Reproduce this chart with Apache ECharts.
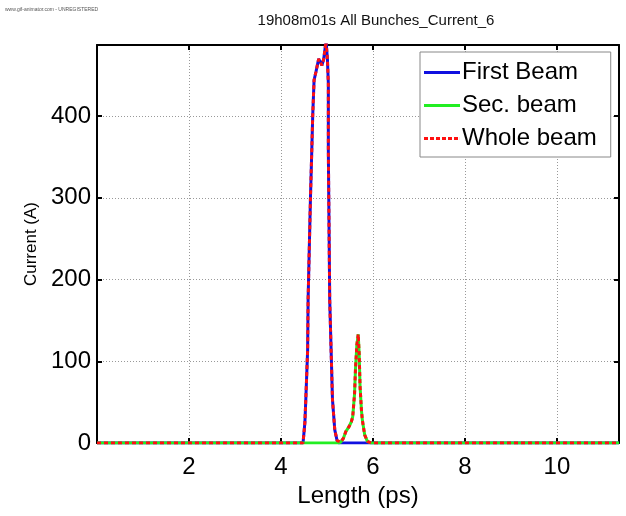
<!DOCTYPE html>
<html>
<head>
<meta charset="utf-8">
<script src="https://cdn.jsdelivr.net/npm/echarts@6/dist/echarts.min.js"></script>
<style>html,body{margin:0;padding:0;background:#fff}#c{width:626px;height:516px}</style>
</head>
<body>
<div id="c"></div>
<script>
const titleText = "19h08m01s All Bunches_Current_6";
const watermark = "www.gif-animator.com - UNREGISTERED";
const xTicks = [2, 4, 6, 8, 10];
const yTicks = [0, 100, 200, 300, 400];
const seriesNames = ["First Beam", "Sec. beam", "Whole beam"];

const firstBeam = [[0,0],[4.40,0],[4.48,0],[4.52,25],[4.54,53],[4.58,114],[4.59,175],[4.64,297],[4.67,358],[4.69,400],[4.72,444],[4.76,454],[4.82,470],[4.86,466],[4.89,462],[4.93,470],[4.98,492],[5.01,470],[5.03,440],[5.03,400],[5.03,358],[5.04,297],[5.06,175],[5.09,114],[5.12,53],[5.17,16],[5.22,3],[5.26,0],[11.35,0]];
const secBeam = [[0,0],[5.25,0],[5.30,1],[5.36,6],[5.41,14],[5.48,20],[5.53,26],[5.56,32],[5.60,60],[5.62,90],[5.65,120],[5.68,133],[5.70,110],[5.72,69],[5.75,40],[5.77,28],[5.82,10],[5.88,2],[5.96,0],[11.35,0]];
const wholeBeam = [[0,0],[4.40,0],[4.48,0],[4.52,25],[4.54,53],[4.58,114],[4.59,175],[4.64,297],[4.67,358],[4.69,400],[4.72,444],[4.76,454],[4.82,470],[4.86,466],[4.89,462],[4.93,470],[4.98,492],[5.01,470],[5.03,440],[5.03,400],[5.03,358],[5.04,297],[5.06,175],[5.09,114],[5.12,53],[5.17,16],[5.22,3],[5.26,1],[5.30,1],[5.36,6],[5.41,14],[5.48,20],[5.53,26],[5.56,32],[5.60,60],[5.62,90],[5.65,120],[5.68,133],[5.70,110],[5.72,69],[5.75,40],[5.77,28],[5.82,10],[5.88,2],[5.96,0],[11.35,0]];

const FONT = "'Liberation Sans', Arial, Helvetica, sans-serif";
const chart = echarts.init(document.getElementById('c'), null, {renderer: 'canvas'});

const xLab = v => xTicks.indexOf(Math.round(v*1000)/1000) >= 0 ? String(v) : '';
const yLab = v => yTicks.indexOf(Math.round(v*1000)/1000) >= 0 ? String(v) : '';

const SOLID_ICON = 'path://M0,0L36,0L36,3L0,3Z';
const DASH_ICON = 'path://M0,0h4v3h-4zM6,0h4v3h-4zM12,0h4v3h-4zM18,0h4v3h-4zM24,0h4v3h-4zM30,0h4v3h-4zM35.9,0h0.1v3h-0.1z';

const axisBase = {
  type: 'value',
  axisLine: {show: true, onZero: false, lineStyle: {color: '#000', width: 2}},
  axisTick: {show: true, inside: true, length: 5, lineStyle: {color: '#000', width: 2}},
};

chart.setOption({
  animation: false,
  backgroundColor: '#fff',
  title: {
    text: titleText, left: 371, top: 8, textAlign: 'center',
    textStyle: {fontFamily: FONT, fontSize: 15, fontWeight: 'normal', color: '#111'}
  },
  graphic: [{
    type: 'text', left: 5, top: 7,
    style: {text: watermark, font: "5px " + FONT, fill: '#555'}
  }],
  legend: {
    orient: 'vertical', left: 420, top: 52, width: 194,
    padding: [8, 14, 6, 4], itemGap: 8, itemWidth: 36, itemHeight: 3,
    backgroundColor: '#fff', borderColor: '#888', borderWidth: 1,
    textStyle: {fontFamily: FONT, fontSize: 24, color: '#000', lineHeight: 25, padding: [0, 0, 0, -3]},
    data: [
      {name: seriesNames[0], icon: SOLID_ICON, itemStyle: {color: '#1010e0'}},
      {name: seriesNames[1], icon: SOLID_ICON, itemStyle: {color: '#22ee22'}},
      {name: seriesNames[2], icon: DASH_ICON, itemStyle: {color: '#ff1010'}}
    ]
  },
  grid: {left: 97, right: 7, top: 45, bottom: 73, containLabel: false},
  xAxis: [
    Object.assign({}, axisBase, {
      min: 0, max: 11.35, interval: 2, position: 'bottom',
      name: 'Length (ps)', nameLocation: 'middle', nameGap: 40,
      nameTextStyle: {fontFamily: FONT, fontSize: 24, color: '#000'},
      axisLabel: {formatter: xLab, fontFamily: FONT, fontSize: 24, color: '#000', margin: 12, showMinLabel: false, showMaxLabel: false},
      splitLine: {show: true, lineStyle: {type: [1, 2], color: '#999', width: 1}}
    }),
    Object.assign({}, axisBase, {
      min: 0, max: 11.35, interval: 2, position: 'top',
      axisLabel: {show: false}, splitLine: {show: false}
    })
  ],
  yAxis: [
    Object.assign({}, axisBase, {
      min: 0, max: 487, interval: 100, position: 'left',
      name: 'Current (A)', nameLocation: 'middle', nameGap: 54, nameRotate: 90,
      nameTextStyle: {fontFamily: FONT, fontSize: 17, color: '#000'},
      axisLabel: {formatter: yLab, fontFamily: FONT, fontSize: 24, color: '#000', margin: 6, showMaxLabel: false},
      splitLine: {show: true, lineStyle: {type: [1, 2], color: '#999', width: 1}}
    }),
    Object.assign({}, axisBase, {
      min: 0, max: 487, interval: 100, position: 'right',
      axisLabel: {show: false}, splitLine: {show: false}
    })
  ],
  series: [
    {name: seriesNames[0], type: 'line', data: firstBeam, showSymbol: false, symbol: 'none',
     lineStyle: {color: '#1010e0', width: 3}, itemStyle: {color: '#1010e0'}, z: 2},
    {name: seriesNames[1], type: 'line', data: secBeam, showSymbol: false, symbol: 'none',
     lineStyle: {color: '#22ee22', width: 3}, itemStyle: {color: '#22ee22'}, z: 3},
    {name: seriesNames[2], type: 'line', data: wholeBeam, showSymbol: false, symbol: 'none',
     lineStyle: {color: '#ff1010', width: 3, type: [4, 3]}, itemStyle: {color: '#ff1010'}, z: 4}
  ]
});
</script>
</body>
</html>
